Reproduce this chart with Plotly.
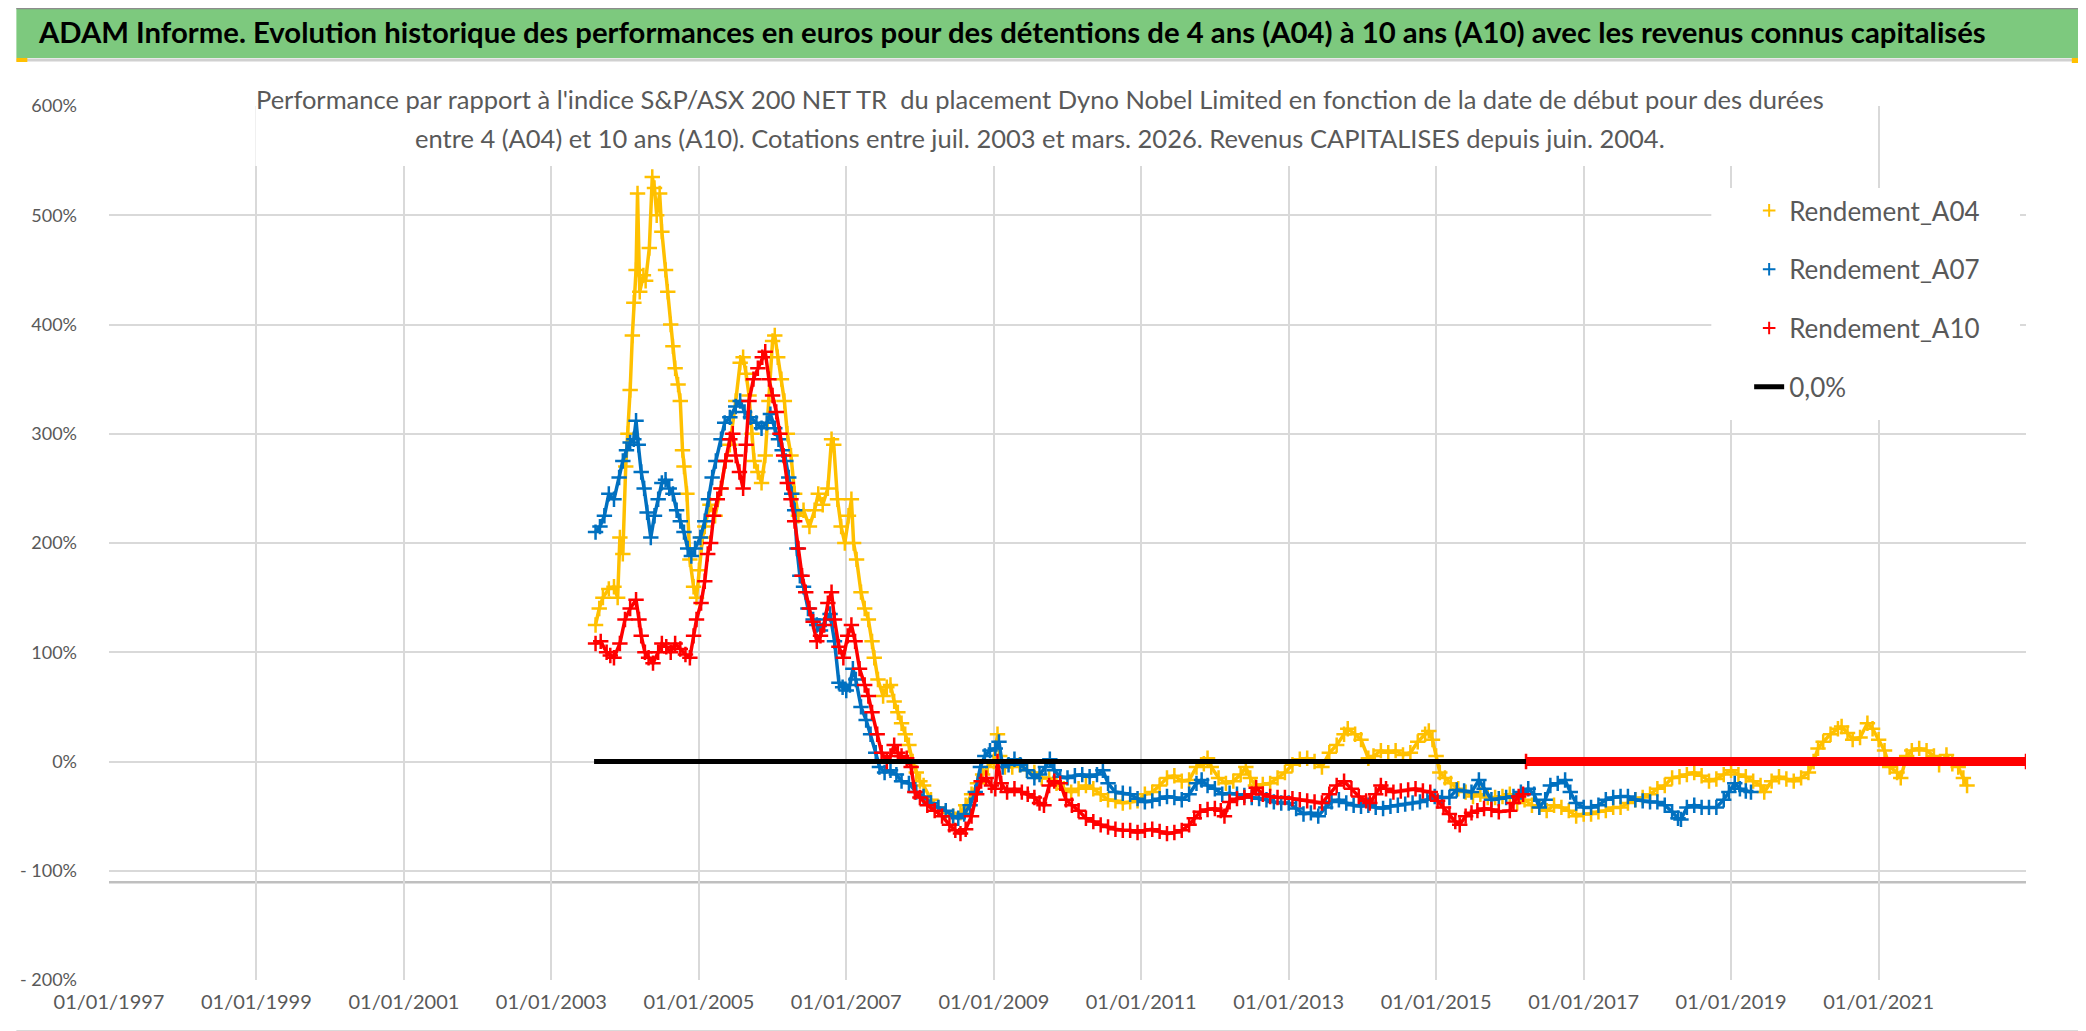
import pandas as pd
import plotly.graph_objects as go

# ---------------- data (decimal years, performance in %) ----------------
A04_T = [2003.60, 2003.65, 2003.70, 2003.78, 2003.85, 2003.90, 2003.93, 2003.97, 2004.01, 2004.04,
         2004.07, 2004.10, 2004.12, 2004.15, 2004.17, 2004.20, 2004.25, 2004.28, 2004.33, 2004.37,
         2004.40, 2004.43, 2004.47, 2004.50, 2004.55, 2004.58, 2004.62, 2004.65, 2004.68, 2004.72,
         2004.75, 2004.78, 2004.80, 2004.84, 2004.88, 2004.93, 2004.97, 2005.00, 2005.05, 2005.08,
         2005.15, 2005.22, 2005.30, 2005.36, 2005.42, 2005.50, 2005.56, 2005.60, 2005.64, 2005.68,
         2005.72, 2005.75, 2005.80, 2005.85, 2005.90, 2005.95, 2006.00, 2006.03, 2006.07, 2006.12,
         2006.16, 2006.20, 2006.25, 2006.30, 2006.35, 2006.42, 2006.50, 2006.57, 2006.62, 2006.68,
         2006.75, 2006.80, 2006.83, 2006.88, 2006.93, 2006.98, 2007.03, 2007.07, 2007.10, 2007.14,
         2007.20, 2007.25, 2007.30, 2007.35, 2007.38, 2007.43, 2007.50, 2007.55, 2007.60, 2007.65,
         2007.70, 2007.75, 2007.80, 2007.85, 2007.90, 2007.95, 2008.00, 2008.05, 2008.15, 2008.25,
         2008.35, 2008.45, 2008.55, 2008.62, 2008.70, 2008.78, 2008.85, 2008.92, 2009.00, 2009.05,
         2009.08, 2009.15, 2009.25, 2009.35, 2009.45, 2009.55, 2009.65, 2009.75, 2009.85, 2009.95,
         2010.05, 2010.15, 2010.25, 2010.35, 2010.45, 2010.55, 2010.65, 2010.75, 2010.85, 2010.95,
         2011.05, 2011.15, 2011.25, 2011.35, 2011.45, 2011.55, 2011.65, 2011.75, 2011.85, 2011.90,
         2011.95, 2012.05, 2012.15, 2012.25, 2012.35, 2012.42, 2012.48, 2012.55, 2012.65, 2012.75,
         2012.85, 2012.95, 2013.05, 2013.15, 2013.25, 2013.35, 2013.45, 2013.55, 2013.65, 2013.75,
         2013.80, 2013.90, 2013.98, 2014.08, 2014.15, 2014.25, 2014.35, 2014.45, 2014.55, 2014.65,
         2014.75, 2014.85, 2014.90, 2014.95, 2015.00, 2015.05, 2015.12, 2015.20, 2015.30, 2015.40,
         2015.50, 2015.60, 2015.70, 2015.80, 2015.90, 2016.00, 2016.10, 2016.20, 2016.30, 2016.40,
         2016.50, 2016.60, 2016.70, 2016.80, 2016.90, 2017.00, 2017.10, 2017.20, 2017.30, 2017.40,
         2017.50, 2017.60, 2017.70, 2017.80, 2017.90, 2018.00, 2018.10, 2018.20, 2018.30, 2018.40,
         2018.50, 2018.60, 2018.70, 2018.80, 2018.90, 2019.00, 2019.10, 2019.20, 2019.30, 2019.40,
         2019.45, 2019.55, 2019.65, 2019.75, 2019.85, 2019.95, 2020.05, 2020.12, 2020.18, 2020.25,
         2020.35, 2020.45, 2020.50, 2020.58, 2020.65, 2020.75, 2020.85, 2020.92, 2021.00, 2021.08,
         2021.15, 2021.25, 2021.30, 2021.38, 2021.45, 2021.55, 2021.65, 2021.75, 2021.82, 2021.92,
         2022.00, 2022.08, 2022.15, 2022.20]
A04_V = [125, 140, 150, 158, 160, 150, 205, 190, 270, 300,
         340, 390, 420, 450, 520, 430, 445, 440, 470, 535,
         525, 500, 520, 485, 450, 430, 400, 380, 360, 345,
         330, 285, 270, 245, 185, 160, 150, 175, 205, 215,
         235, 225, 250, 275, 290, 330, 365, 370, 355, 335,
         300, 275, 265, 255, 280, 330, 385, 390, 370, 350,
         330, 300, 280, 245, 225, 230, 215, 230, 245, 235,
         250, 295, 290, 240, 215, 200, 225, 240, 200, 185,
         155, 140, 130, 110, 95, 75, 60, 68, 70, 55,
         45, 35, 25, 15, 0, -10, -18, -22, -35, -42,
         -47, -50, -47, -40, -30, -20, -12, -5, 0, 25,
         5, -5, -5, -3, -8, -10, -15, -15, -20, -25,
         -28, -25, -22, -25, -30, -35, -36, -38, -37, -36,
         -30, -28, -22, -15, -13, -18, -17, -5, -2, 3,
         -5, -15, -20, -18, -12, -5, -15, -22, -21, -20,
         -15, -10, -3, 2, 3, 0, -5, 8, 15, 25,
         30, 25, 20, 3, 5, 10, 8, 10, 6, 8,
         18, 25, 28, 20, 5, -10, -15, -20, -25, -28,
         -32, -30, -33, -33, -32, -30, -38, -35, -40, -42,
         -45, -40, -42, -45, -50, -48, -48, -46, -45, -42,
         -42, -38, -35, -33, -30, -25, -22, -15, -14, -12,
         -10, -13, -18, -16, -12, -8, -12, -14, -18, -22,
         -28, -18, -14, -16, -18, -15, -10, 0, 12, 18,
         25, 30, 32, 26, 20, 22, 35, 30, 20, 10,
         -5, -10, -15, 5, 10, 12, 10, 5, -3, 6,
         -2, -5, -15, -22]

A07_T = [2003.60, 2003.66, 2003.72, 2003.78, 2003.85, 2003.92, 2003.97, 2004.02, 2004.07, 2004.12,
         2004.15, 2004.18, 2004.22, 2004.26, 2004.30, 2004.35, 2004.40, 2004.45, 2004.50, 2004.55,
         2004.60, 2004.65, 2004.70, 2004.75, 2004.80, 2004.85, 2004.90, 2004.95, 2005.02, 2005.08,
         2005.13, 2005.18, 2005.23, 2005.30, 2005.35, 2005.42, 2005.50, 2005.56, 2005.62, 2005.70,
         2005.78, 2005.85, 2005.92, 2005.97, 2006.03, 2006.08, 2006.13, 2006.18, 2006.22, 2006.26,
         2006.30, 2006.33, 2006.37, 2006.42, 2006.48, 2006.55, 2006.60, 2006.65, 2006.72, 2006.78,
         2006.84, 2006.90, 2006.95, 2007.00, 2007.05, 2007.09, 2007.13, 2007.20, 2007.27, 2007.33,
         2007.40, 2007.45, 2007.52, 2007.60, 2007.68, 2007.75, 2007.85, 2007.95, 2008.05, 2008.15,
         2008.25, 2008.35, 2008.45, 2008.52, 2008.60, 2008.68, 2008.75, 2008.82, 2008.88, 2008.95,
         2009.02, 2009.07, 2009.12, 2009.20, 2009.28, 2009.36, 2009.45, 2009.55, 2009.62, 2009.70,
         2009.76, 2009.82, 2009.90, 2010.00, 2010.10, 2010.20, 2010.30, 2010.40, 2010.48, 2010.55,
         2010.65, 2010.75, 2010.85, 2010.95, 2011.05, 2011.15, 2011.25, 2011.35, 2011.45, 2011.55,
         2011.65, 2011.75, 2011.82, 2011.90, 2012.00, 2012.10, 2012.20, 2012.30, 2012.40, 2012.50,
         2012.60, 2012.70, 2012.80, 2012.90, 2013.00, 2013.10, 2013.20, 2013.30, 2013.40, 2013.50,
         2013.58, 2013.68, 2013.78, 2013.88, 2013.98, 2014.08, 2014.18, 2014.28, 2014.38, 2014.48,
         2014.58, 2014.68, 2014.78, 2014.88, 2014.98, 2015.08, 2015.18, 2015.28, 2015.38, 2015.48,
         2015.58, 2015.65, 2015.75, 2015.85, 2015.95, 2016.05, 2016.15, 2016.25, 2016.33, 2016.40,
         2016.48, 2016.55, 2016.65, 2016.75, 2016.82, 2016.90, 2017.00, 2017.10, 2017.20, 2017.30,
         2017.40, 2017.50, 2017.60, 2017.70, 2017.80, 2017.90, 2018.00, 2018.10, 2018.20, 2018.28,
         2018.32, 2018.40, 2018.50, 2018.60, 2018.70, 2018.80, 2018.90, 2018.97, 2019.05, 2019.12,
         2019.20, 2019.27]
A07_V = [210, 215, 225, 245, 240, 260, 275, 285, 292, 295,
         312, 290, 265, 250, 228, 205, 225, 240, 255, 258,
         250, 245, 230, 220, 210, 195, 188, 195, 205, 220,
         240, 260, 275, 295, 310, 315, 325, 330, 320, 315,
         310, 305, 310, 318, 305, 295, 285, 275, 260, 245,
         230, 195, 170, 160, 140, 130, 125, 120, 130, 135,
         110, 72, 68, 65, 70, 85, 75, 50, 38, 25,
         8, -5, -10, -8, -12, -18, -20, -28, -32, -38,
         -42, -45, -50, -52, -48, -40, -28, -5, 5, 10,
         12, 18, -5, -3, 2, -3, -8, -15, -12, -5,
         2, -8, -14, -15, -13, -12, -14, -12, -8, -20,
         -28, -29, -30, -34, -37, -36, -34, -32, -33, -35,
         -30, -20, -17, -22, -25, -30, -29, -30, -31, -33,
         -34, -35, -37, -38, -38, -43, -48, -47, -50, -42,
         -37, -35, -38, -40, -41, -40, -42, -43, -41, -40,
         -39, -38, -37, -35, -32, -33, -33, -26, -27, -28,
         -17, -25, -35, -34, -33, -32, -28, -25, -30, -42,
         -35, -22, -20, -17, -28, -38, -42, -42, -40, -35,
         -33, -32, -32, -35, -36, -37, -37, -40, -46, -52,
         -53, -42, -40, -42, -42, -42, -35, -28, -20, -25,
         -27, -28]

A10_T = [2003.60, 2003.67, 2003.75, 2003.80, 2003.85, 2003.93, 2004.00, 2004.07, 2004.15, 2004.19,
         2004.22, 2004.27, 2004.32, 2004.38, 2004.45, 2004.50, 2004.56, 2004.62, 2004.68, 2004.75,
         2004.82, 2004.88, 2004.93, 2004.97, 2005.03, 2005.08, 2005.12, 2005.16, 2005.20, 2005.25,
         2005.30, 2005.36, 2005.42, 2005.46, 2005.50, 2005.55, 2005.60, 2005.64, 2005.68, 2005.74,
         2005.80, 2005.86, 2005.90, 2005.95, 2006.00, 2006.05, 2006.10, 2006.15, 2006.20, 2006.25,
         2006.30, 2006.35, 2006.40, 2006.45, 2006.50, 2006.55, 2006.60, 2006.65, 2006.70, 2006.75,
         2006.80, 2006.84, 2006.90, 2006.96, 2007.02, 2007.07, 2007.12, 2007.18, 2007.25, 2007.30,
         2007.35, 2007.42, 2007.48, 2007.55, 2007.60, 2007.65, 2007.70, 2007.75, 2007.82, 2007.88,
         2007.93, 2008.00, 2008.10, 2008.20, 2008.30, 2008.40, 2008.48, 2008.55, 2008.62, 2008.70,
         2008.77, 2008.83, 2008.90, 2008.97, 2009.02, 2009.05, 2009.10, 2009.18, 2009.28, 2009.38,
         2009.46, 2009.55, 2009.62, 2009.68, 2009.75, 2009.82, 2009.90, 2009.98, 2010.06, 2010.15,
         2010.25, 2010.35, 2010.45, 2010.55, 2010.65, 2010.75, 2010.85, 2010.95, 2011.05, 2011.15,
         2011.25, 2011.35, 2011.45, 2011.55, 2011.65, 2011.72, 2011.80, 2011.90, 2012.00, 2012.08,
         2012.13, 2012.20, 2012.30, 2012.40, 2012.50, 2012.56, 2012.65, 2012.75, 2012.85, 2012.95,
         2013.05, 2013.15, 2013.25, 2013.35, 2013.45, 2013.55, 2013.65, 2013.75, 2013.85, 2013.95,
         2014.05, 2014.10, 2014.18, 2014.25, 2014.32, 2014.42, 2014.52, 2014.62, 2014.72, 2014.82,
         2014.92, 2015.02, 2015.10, 2015.18, 2015.26, 2015.32, 2015.40, 2015.48, 2015.56, 2015.65,
         2015.75, 2015.85, 2016.00, 2016.05, 2016.12, 2016.18]
A10_V = [108, 110, 100, 97, 95, 108, 130, 140, 148, 130,
         115, 100, 95, 90, 100, 108, 105, 100, 108, 103,
         98, 95, 115, 130, 145, 165, 190, 200, 225, 240,
         250, 275, 295, 300, 280, 265, 250, 290, 330, 350,
         360, 370, 375, 350, 335, 320, 300, 280, 255, 240,
         220, 195, 170, 155, 140, 128, 110, 115, 125, 145,
         155, 130, 105, 95, 115, 125, 110, 85, 70, 60,
         45, 25, 8, 0, 5, 15, 8, 5, 3, -5,
         -28, -33, -40, -45, -50, -58, -63, -66, -62, -50,
         -30, -18, -15, -22, -25, 0, -20, -28, -25, -28,
         -30, -33, -38, -40, -22, -18, -20, -35, -40, -45,
         -52, -55, -58, -60, -62, -63, -63, -65, -63, -62,
         -64, -66, -65, -63, -58, -52, -46, -44, -43, -45,
         -50, -37, -34, -33, -30, -24, -30, -32, -33, -33,
         -34, -35, -36, -37, -38, -30, -22, -18, -25, -32,
         -36, -38, -30, -22, -25, -28, -27, -26, -25, -27,
         -28, -36, -42, -48, -55, -58, -50, -47, -45, -43,
         -44, -46, -45, -38, -32, -30]
# A10 values published as 0 once the 10-year window is no longer available
A10_ZERO_T = [2016.22, 2023.00]
A10_ZERO_V = [0, 0]

# reference 0,0% line
ZERO_T = [2003.58, 2016.22]
ZERO_V = [0, 0]

X_TICK_YEARS = [1997, 1999, 2001, 2003, 2005, 2007, 2009, 2011, 2013, 2015, 2017, 2019, 2021]
X_TICK_LABELS = ["01/01/%d" % y for y in X_TICK_YEARS]
Y_TICK_VALS = [-200, -100, 0, 100, 200, 300, 400, 500, 600]
Y_TICK_LABELS = ["- 200%", "- 100%", "0%", "100%", "200%", "300%", "400%", "500%", "600%"]
AXIS_CROSS = -110.6

TITLE = ("ADAM Informe. Evolution historique des performances en euros pour des détentions "
         "de 4 ans (A04) à 10 ans (A10) avec les revenus connus capitalisés")
SUBTITLE_1 = ("Performance par rapport à l'indice S&amp;P/ASX 200 NET TR&nbsp; du placement Dyno Nobel Limited "
              "en fonction de la date de début pour des durées")
SUBTITLE_2 = ("entre 4 (A04) et 10 ans (A10). Cotations entre juil. 2003 et mars. 2026. "
              "Revenus CAPITALISES depuis juin. 2004.")


def to_dates(ts):
    out = []
    for t in ts:
        y = int(t)
        out.append(pd.Timestamp(year=y, month=1, day=1) + pd.Timedelta(days=(t - y) * 365.25))
    return out


# ---------------- layout geometry ----------------
W, H = 2086, 1031
PL, PR, PT, PB = 93, 2018, 98, 972


def px_x(px):
    return (px - PL) / (PR - PL)


def px_y(py):
    return (PB - py) / (PB - PT)


FONT = "Lato, Liberation Sans, sans-serif"
GREY = "#595959"
C04, C07, C10 = "#FFC000", "#0070C0", "#FF0000"
GREEN = "#7DC97E"

fig = go.Figure()


def add_series(name, ts, vs, color, lw=3.5):
    fig.add_trace(go.Scatter(
        x=to_dates(ts), y=vs, mode="lines+markers", name=name, showlegend=False,
        line=dict(color=color, width=lw),
        marker=dict(symbol="cross-thin", size=11, color=color, line=dict(color=color, width=2.5)),
        hoverinfo="skip"))


add_series("Rendement_A04", A04_T, A04_V, C04)
add_series("Rendement_A07", A07_T, A07_V, C07)
add_series("Rendement_A10", A10_T, A10_V, C10)
add_series("Rendement_A10", A10_ZERO_T, A10_ZERO_V, C10, lw=9)

fig.add_trace(go.Scatter(x=to_dates(ZERO_T), y=ZERO_V, mode="lines", showlegend=False,
                         line=dict(color="black", width=5), hoverinfo="skip"))

# legend entries
for i, (nm, col) in enumerate([("Rendement_A04", C04), ("Rendement_A07", C07), ("Rendement_A10", C10)]):
    fig.add_trace(go.Scatter(x=[None], y=[None], mode="markers", name=nm, legendgroup="g%d" % i,
                             marker=dict(symbol="cross-thin", size=9, color=col,
                                         line=dict(color=col, width=2))))
fig.add_trace(go.Scatter(x=[None], y=[None], mode="lines", name="0,0%", legendgroup="g3",
                         line=dict(color="black", width=5)))


def prect(x0, x1, y0, y1, color, layer="above"):
    return dict(type="rect", xref="paper", yref="paper", x0=px_x(x0), x1=px_x(x1),
                y0=px_y(y1), y1=px_y(y0), fillcolor=color, line=dict(width=0), layer=layer)


def pline(x0, x1, y0, y1, color, width):
    return dict(type="line", xref="paper", yref="paper", x0=px_x(x0), x1=px_x(x1),
                y0=px_y(y0), y1=px_y(y1), line=dict(color=color, width=width))


shapes = [
    prect(0, W, 0, 50, GREEN, layer="below"),
    pline(0, W, 0.5, 0.5, "#8C8C8C", 1.5),
    pline(0, 2079, 52, 52, "#D0D0D0", 3),
    pline(2079, 2079, 52, 1023, "#D9D9D9", 2),
    prect(2080, W, 52, 1024, GREEN),
    pline(0, 2079, 1023, 1023, "#D9D9D9", 2),
    pline(0, W, 1030, 1030, "#8C8C8C", 2),
    # selection handles
    prect(0, 11, 50, 54, "#FFC000"),
    prect(2064, 2085, 50, 55, "#FFC000"),
    prect(2080, 2085, 50, 66, "#FFC000"),
    prect(0, 11, 1024, 1029, "#FFC000"),
    prect(2080, 2086, 970, 1029, "#FFC000"),
    # white boxes behind chart title and legend
    prect(240, 1830, 76, 158, "white"),
    prect(1702, 2012, 180, 412, "white"),
    # horizontal axis line
    dict(type="line", xref="paper", yref="y", x0=0, x1=1, y0=AXIS_CROSS, y1=AXIS_CROSS,
         line=dict(color="#BFBFBF", width=2.5), layer="below"),
]

fig.update_layout(
    width=W, height=H, autosize=False,
    margin=dict(l=PL, r=W - PR, t=PT, b=H - PB, pad=0),
    paper_bgcolor="white", plot_bgcolor="white",
    font=dict(family=FONT, color=GREY),
    shapes=shapes,
    showlegend=True,
    legend=dict(x=px_x(1740), y=px_y(179), xanchor="left", yanchor="top", bgcolor="rgba(0,0,0,0)",
                font=dict(size=26, color=GREY, family=FONT), traceorder="grouped",
                tracegroupgap=22, itemclick=False),
    annotations=[
        dict(text="<b>" + TITLE + "</b>", xref="paper", yref="paper", x=px_x(1000), y=px_y(23),
             xanchor="center", yanchor="middle", showarrow=False,
             font=dict(size=29.3, color="black", family=FONT)),
        dict(text=SUBTITLE_1, xref="paper", yref="paper", x=px_x(1028), y=px_y(91),
             xanchor="center", yanchor="middle", showarrow=False,
             font=dict(size=25.5, color=GREY, family=FONT)),
        dict(text=SUBTITLE_2, xref="paper", yref="paper", x=px_x(1028), y=px_y(130),
             xanchor="center", yanchor="middle", showarrow=False,
             font=dict(size=25.5, color=GREY, family=FONT)),
    ],
    xaxis=dict(type="date", range=["1997-01-01", "2023-01-01"],
               tickvals=[pd.Timestamp(year=y, month=1, day=1) for y in X_TICK_YEARS],
               ticktext=X_TICK_LABELS, showgrid=True, gridcolor="#D9D9D9", gridwidth=1.5,
               zeroline=False, showline=False, ticks="", ticklabelstandoff=8,
               tickfont=dict(size=20, color=GREY, family=FONT)),
    yaxis=dict(range=[-200, 600], tickvals=Y_TICK_VALS, ticktext=Y_TICK_LABELS,
               showgrid=True, gridcolor="#D9D9D9", gridwidth=1.5, zeroline=False, showline=False,
               ticks="", ticklabelstandoff=31,
               tickfont=dict(size=18, color=GREY, family=FONT)),
)

fig.write_html("out.html")
